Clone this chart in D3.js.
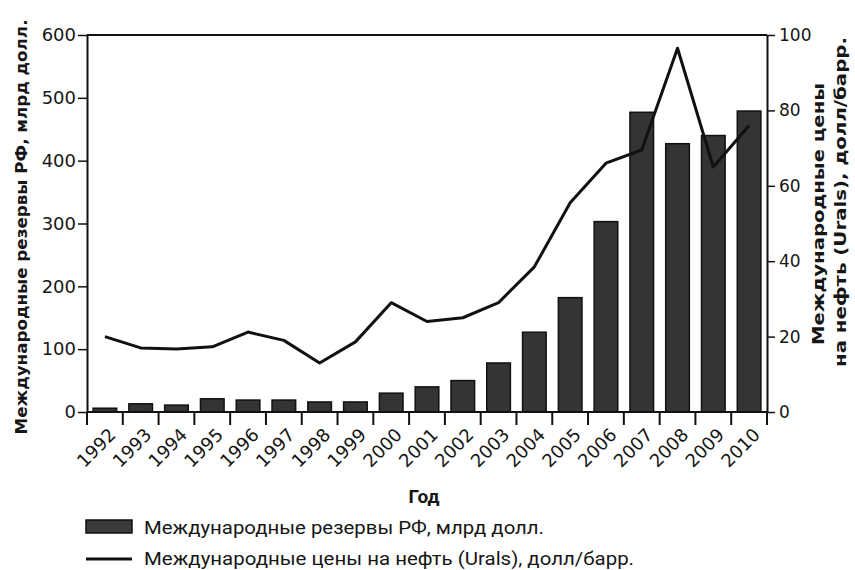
<!DOCTYPE html>
<html>
<head>
<meta charset="utf-8">
<script src="https://cdn.jsdelivr.net/npm/d3@7"></script>
<style>
  body { margin: 0; background: #fff; }
  svg text { font-family: "DejaVu Sans", sans-serif; fill: #161616; }
  .lefttick text { font-size: 18px; }
  .righttick text { font-size: 17px; }
  .xlabel { font-size: 18px; }
  .title { font-weight: bold; font-size: 16px; }
  .legendtext { font-family: "Roboto", sans-serif !important; font-size: 19px; }
</style>
</head>
<body>
<script>
// data
var years = ["1992", "1993", "1994", "1995", "1996", "1997", "1998", "1999", "2000", "2001",
             "2002", "2003", "2004", "2005", "2006", "2007", "2008", "2009", "2010"]
var reserves = [6, 13, 11, 21, 19, 19, 16, 16, 30, 40, 50, 78, 127, 182, 303, 477, 427, 440, 479]
var oilPrice = [20, 17, 16.7, 17.3, 21.2, 19, 13, 18.6, 29, 24, 25, 29, 38.5, 55.5, 66, 69.5, 96.5, 65, 76]
var leftTicks = [0, 100, 200, 300, 400, 500, 600]
var rightTicks = [0, 20, 40, 60, 80, 100]

WIDTH = 855
HEIGHT = 570
LEFT = 87
RIGHT = 767
TOP = 35
BOTTOM = 412

var svg = d3.select("body").append("svg")
            .attr("width", WIDTH)
            .attr("height", HEIGHT)

var xScale = d3.scaleBand().domain(years).range([LEFT, RIGHT])
               .paddingInner(0.34).paddingOuter(0.17)
var yLeft = d3.scaleLinear().domain([0, 600]).range([BOTTOM, TOP])
var yRight = d3.scaleLinear().domain([0, 100]).range([BOTTOM, TOP])

// bars
svg.selectAll(".bar").data(reserves).enter().append("rect")
   .attr("class", "bar")
   .attr("x", function(d, i) { return xScale(years[i]) })
   .attr("y", function(d) { return yLeft(d) })
   .attr("width", xScale.bandwidth())
   .attr("height", function(d) { return BOTTOM - yLeft(d) })
   .attr("fill", "#343434")
   .attr("stroke", "#111")
   .attr("stroke-width", 1.5)

// oil price line
var line = d3.line()
             .x(function(d, i) { return xScale(years[i]) + xScale.bandwidth() / 2 })
             .y(function(d) { return yRight(d) })
svg.append("path").datum(oilPrice)
   .attr("d", line)
   .attr("fill", "none")
   .attr("stroke", "#111")
   .attr("stroke-width", 3)
   .attr("stroke-linejoin", "round")

// frame top
svg.append("line").attr("x1", LEFT).attr("x2", RIGHT).attr("y1", TOP).attr("y2", TOP)
   .attr("stroke", "#111").attr("stroke-width", 2)

// left axis
var gl = svg.append("g").attr("class", "lefttick").attr("transform", "translate(" + LEFT + ",0)")
            .call(d3.axisLeft(yLeft).tickValues(leftTicks).tickSize(9).tickPadding(2).tickSizeOuter(0))
gl.attr("font-family", null).attr("font-size", null)
gl.select(".domain").attr("stroke", "#111").attr("stroke-width", 2)
gl.selectAll(".tick line").attr("stroke", "#111").attr("stroke-width", 1.5)

// right axis
var gr = svg.append("g").attr("class", "righttick").attr("transform", "translate(" + RIGHT + ",0)")
            .call(d3.axisRight(yRight).tickValues(rightTicks).tickSize(8).tickPadding(4).tickSizeOuter(0))
gr.attr("font-family", null).attr("font-size", null)
gr.select(".domain").attr("stroke", "#111").attr("stroke-width", 2)
gr.selectAll(".tick line").attr("stroke", "#111").attr("stroke-width", 1.5)

// bottom axis with ticks at band boundaries
svg.append("line").attr("x1", LEFT).attr("x2", RIGHT).attr("y1", BOTTOM).attr("y2", BOTTOM)
   .attr("stroke", "#111").attr("stroke-width", 2)
var bounds = d3.range(years.length + 1).map(function(i) { return LEFT + i * xScale.step() })
svg.selectAll(".xtick").data(bounds).enter().append("line")
   .attr("class", "xtick")
   .attr("x1", function(d) { return d }).attr("x2", function(d) { return d })
   .attr("y1", BOTTOM).attr("y2", BOTTOM + 13)
   .attr("stroke", "#111").attr("stroke-width", 2)
svg.selectAll(".xlabel").data(years).enter().append("text")
   .attr("class", "xlabel")
   .attr("transform", function(d) {
      return "translate(" + (xScale(d) + xScale.bandwidth() / 2 + 12) + "," + (BOTTOM + 24) + ")rotate(-45)"
   })
   .attr("text-anchor", "end")
   .text(function(d) { return d })

// axis titles
svg.append("text").attr("class", "title")
   .attr("transform", "translate(" + 27 + "," + 227 + ")rotate(-90)")
   .attr("text-anchor", "middle")
   .attr("textLength", 415).attr("lengthAdjust", "spacingAndGlyphs")
   .text("Международные резервы РФ, млрд долл.")
svg.append("text").attr("class", "title")
   .attr("transform", "translate(" + 824 + "," + 214 + ")rotate(-90)")
   .attr("text-anchor", "middle")
   .attr("font-size", 17)
   .attr("textLength", 262).attr("lengthAdjust", "spacingAndGlyphs")
   .text("Международные цены")
svg.append("text").attr("class", "title")
   .attr("transform", "translate(" + 846 + "," + 202 + ")rotate(-90)")
   .attr("text-anchor", "middle")
   .attr("font-size", 17)
   .attr("textLength", 330).attr("lengthAdjust", "spacingAndGlyphs")
   .text("на нефть (Urals), долл/барр.")
svg.append("text").attr("class", "title")
   .attr("x", 424).attr("y", 503)
   .attr("text-anchor", "middle")
   .style("font-family", "Roboto")
   .style("font-size", "19px")
   .text("Год")

// legend
svg.append("rect").attr("x", 86).attr("y", 520).attr("width", 46).attr("height", 13)
   .attr("fill", "#3a3a3a").attr("stroke", "#111").attr("stroke-width", 1.5)
svg.append("text").attr("class", "legendtext").attr("x", 144).attr("y", 534)
   .attr("textLength", 400).attr("lengthAdjust", "spacingAndGlyphs")
   .text("Международные резервы РФ, млрд  долл.")
svg.append("line").attr("x1", 86).attr("x2", 132).attr("y1", 559).attr("y2", 559)
   .attr("stroke", "#111").attr("stroke-width", 3)
svg.append("text").attr("class", "legendtext").attr("x", 144).attr("y", 565)
   .attr("textLength", 490).attr("lengthAdjust", "spacingAndGlyphs")
   .text("Международные цены на нефть (Urals), долл/барр.")
</script>
</body>
</html>
